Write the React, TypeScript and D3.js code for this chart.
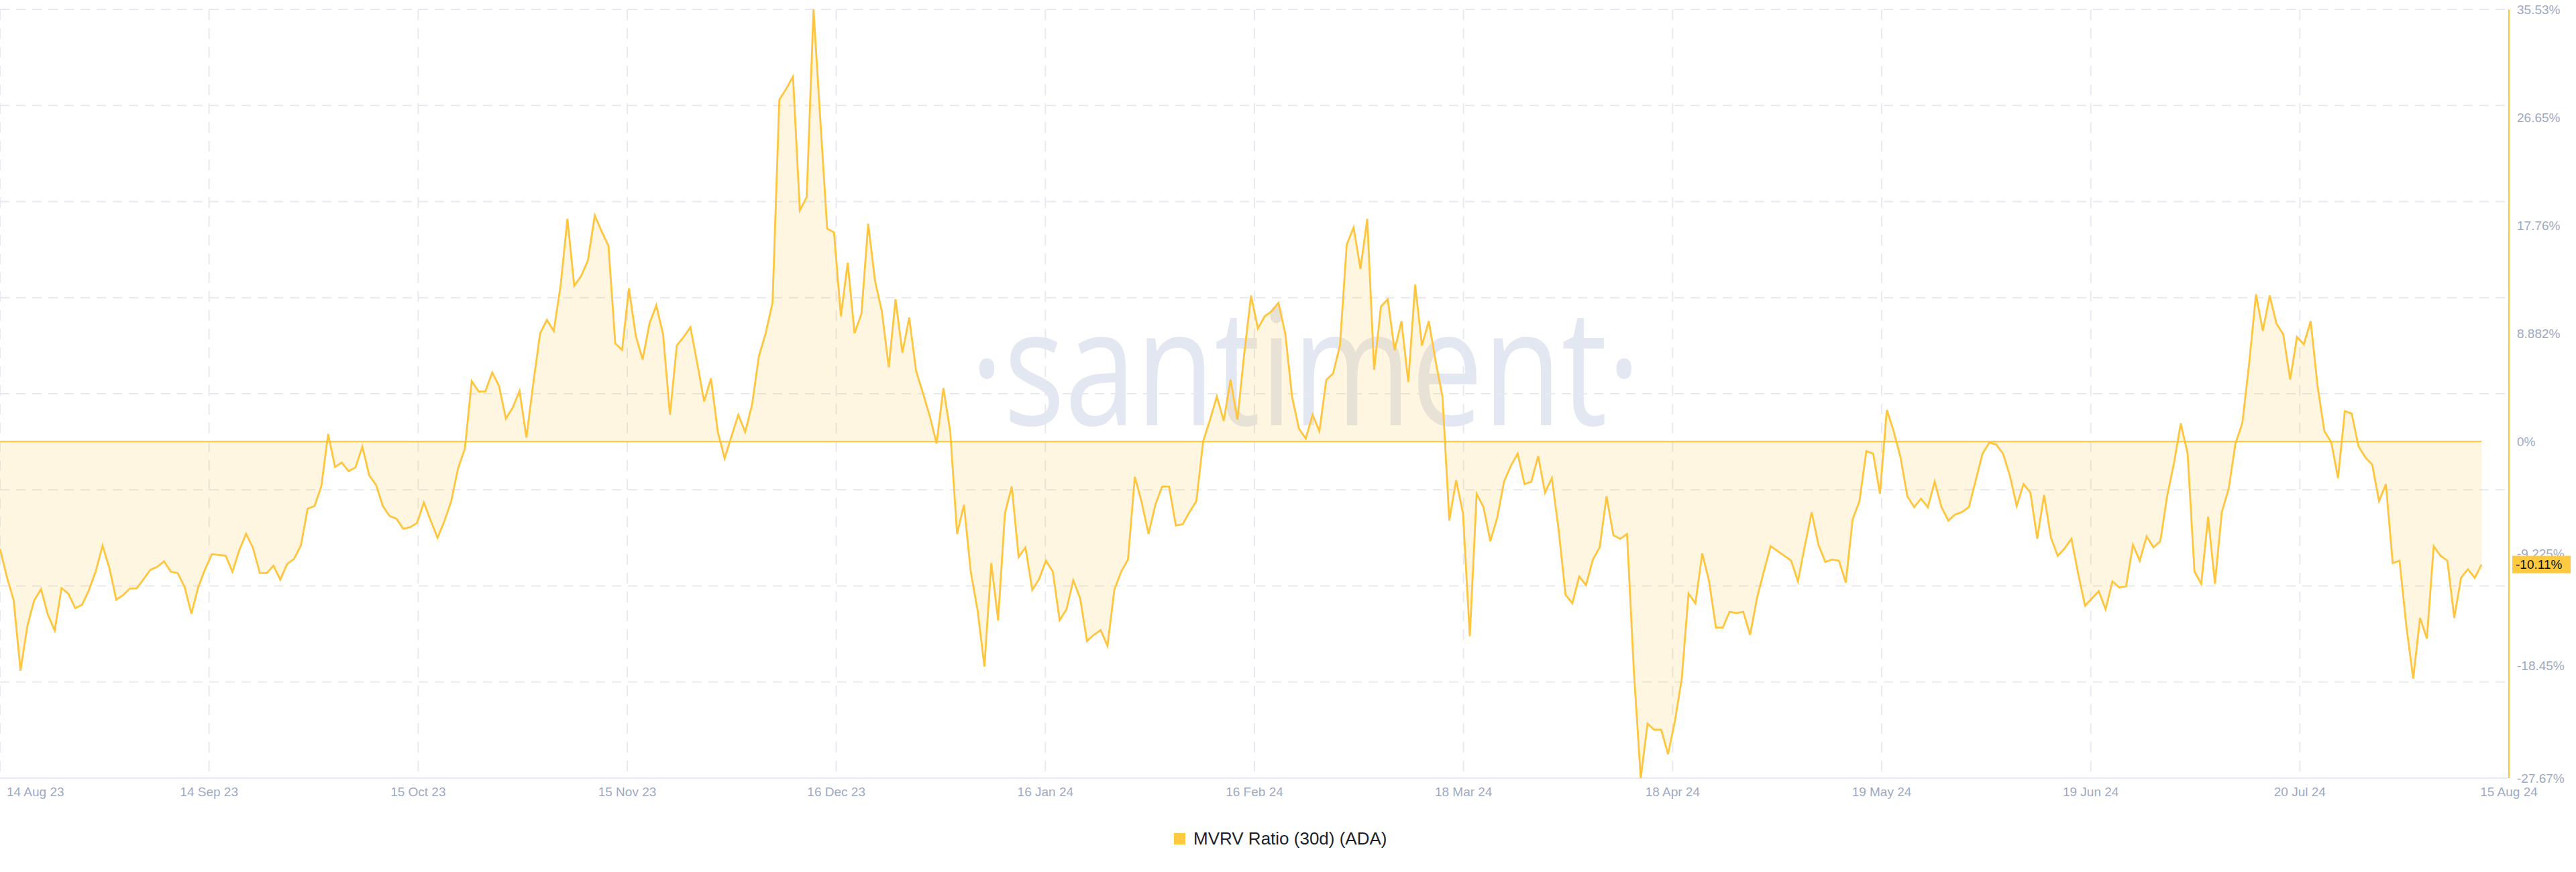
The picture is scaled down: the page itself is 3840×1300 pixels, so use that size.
import React from 'react';
import * as d3 from 'd3';

const W = 3840;
const H = 1300;

// MVRV Ratio (30d) for ADA, daily, starting 14 Aug 2023 (values in %)
const mvrvAugSep23 = [
  -8.83, -11.13, -13.06, -18.84, -15.17, -13.06, -12.14, -14.25, -15.54, -12.05,
  -12.51, -13.7, -13.43, -12.23, -10.67, -8.56, -10.4, -13.0, -12.64, -12.08,
  -12.07, -11.31, -10.54, -10.3, -9.85, -10.71, -10.82, -11.96, -14.16, -11.96,
];
const mvrvSepOct23 = [
  -10.49, -9.26, -9.33, -9.38, -10.71, -8.93, -7.59, -8.74, -10.8, -10.82,
  -10.21, -11.35, -10.07, -9.66, -8.56, -5.53, -5.31, -3.69, 0.62, -2.09,
  -1.73, -2.44, -2.13, -0.42, -2.77, -3.56, -5.31, -6.13, -6.35, -7.18,
];
const mvrvOctNov23 = [
  -7.04, -6.71, -5.02, -6.51, -7.91, -6.55, -4.9, -2.22, -0.58, 4.98,
  4.12, 4.12, 5.68, 4.57, 1.89, 2.8, 4.16, 0.33, 4.78, 8.89,
  10.0, 9.1, 12.8, 18.3, 12.8, 13.6, 14.9, 18.6, 17.3, 16.1,
];
const mvrvNovDec23 = [
  8.07, 7.54, 12.6, 8.7, 6.75, 9.7, 11.2, 8.8, 2.2, 7.9,
  8.6, 9.4, 6.4, 3.3, 5.2, 0.8, -1.4, 0.45, 2.2, 0.8,
  3.0, 7.0, 8.9, 11.4, 28.1, 29.0, 30.0, 19.0, 20.1, 35.53,
];
const mvrvDecJan24 = [
  26.4, 17.5, 17.2, 10.3, 14.7, 8.9, 10.5, 17.9, 13.2, 10.7,
  6.1, 11.7, 7.3, 10.2, 5.8, 4.0, 2.1, -0.16, 4.4, 0.8,
  -7.6, -5.2, -10.7, -13.9, -18.5, -10.0, -14.7, -5.9, -3.7, -9.5,
];
const mvrvJanFeb24 = [
  -8.7, -12.2, -11.3, -9.8, -10.7, -14.7, -13.8, -11.4, -12.9, -16.4,
  -15.9, -15.5, -16.8, -12.2, -10.7, -9.7, -2.9, -5.0, -7.6, -5.2,
  -3.7, -3.7, -6.9, -6.8, -5.8, -4.9, 0.04, 1.8, 3.7, 1.7,
];
const mvrvFebMar24 = [
  5.1, 1.8, 7.2, 12.0, 9.3, 10.3, 10.7, 11.4, 8.9, 3.7,
  1.07, 0.25, 2.2, 0.86, 5.07, 5.6, 7.9, 16.2, 17.6, 14.2,
  18.3, 5.9, 11.1, 11.7, 7.5, 9.9, 4.9, 12.9, 7.9, 9.9,
];
const mvrvMarApr24 = [
  6.6, 3.7, -6.5, -3.2, -5.9, -16.0, -4.3, -5.4, -8.2, -6.3,
  -3.3, -2.0, -1.0, -3.5, -3.3, -1.2, -4.2, -3.0, -7.3, -12.6,
  -13.3, -11.1, -11.8, -9.7, -8.7, -4.5, -7.7, -8.0, -7.6, -18.9,
];
const mvrvAprMay24 = [
  -27.67, -23.2, -23.7, -23.7, -25.7, -23.0, -19.5, -12.5, -13.3, -9.2,
  -11.5, -15.3, -15.3, -14.0, -14.1, -14.0, -15.9, -12.9, -10.7, -8.6,
  -9.0, -9.4, -9.8, -11.5, -8.6, -5.8, -8.5, -9.9, -9.7, -9.8,
];
const mvrvMayJun24 = [
  -11.6, -6.4, -4.9, -0.8, -1.0, -4.3, 2.6, 0.86, -1.3, -4.5,
  -5.4, -4.7, -5.4, -3.3, -5.4, -6.5, -6.0, -5.8, -5.4, -3.2,
  -1.0, -0.08, -0.25, -1.0, -2.8, -5.3, -3.5, -4.2, -8.0, -4.4,
];
const mvrvJunJul24 = [
  -7.9, -9.4, -8.8, -8.0, -10.9, -13.5, -12.9, -12.3, -13.8, -11.5,
  -12.0, -11.9, -8.5, -9.8, -7.8, -8.7, -8.2, -4.5, -1.8, 1.5,
  -1.0, -10.7, -11.7, -6.2, -11.7, -5.8, -3.9, -0.16, 1.5, 6.4,
];
const mvrvJulAug24 = [
  12.1, 9.1, 12.0, 9.7, 8.8, 5.1, 8.6, 8.0, 9.9, 4.6,
  0.86, -0.04, -3.0, 2.5, 2.3, -0.4, -1.3, -1.9, -4.9, -3.5,
  -10.0, -9.8, -15.2, -19.5, -14.5, -16.2, -8.6, -9.4, -9.8, -14.5,
  -11.2, -10.5, -11.2, -10.11,
];

const xTickLabels = [
  '14 Aug 23', '14 Sep 23', '15 Oct 23', '15 Nov 23', '16 Dec 23', '16 Jan 24', '16 Feb 24',
  '18 Mar 24', '18 Apr 24', '19 May 24', '19 Jun 24', '20 Jul 24', '15 Aug 24',
];
const yTickValues = [35.53, 26.65, 17.76, 8.882, 0, -9.225, -18.45, -27.67];
const yTickLabels = ['35.53%', '26.65%', '17.76%', '8.882%', '0%', '-9.225%', '-18.45%', '-27.67%'];
const seriesName = 'MVRV Ratio (30d) (ADA)';
const lastLabel = '-10.11%';

const values = [
  ...mvrvAugSep23, ...mvrvSepOct23, ...mvrvOctNov23, ...mvrvNovDec23,
  ...mvrvDecJan24, ...mvrvJanFeb24, ...mvrvFebMar24, ...mvrvMarApr24,
  ...mvrvAprMay24, ...mvrvMayJun24, ...mvrvJunJul24, ...mvrvJulAug24,
];

const startDate = new Date(Date.UTC(2023, 7, 14));
const endDate = new Date(Date.UTC(2024, 7, 15));
const data = values.map((v, i) => ({
  date: new Date(startDate.getTime() + i * 86400000),
  value: v,
}));

const YELLOW = '#ffc53d';
const GRID = '#e6e9f1';
const AXIS_TEXT = '#9ea9c4';
const FONT = '"Liberation Sans", Arial, sans-serif';

export default function App() {
  const plot = { left: 0, right: 3740, top: 14, bottom: 1160 };

  const x = d3.scaleUtc().domain([startDate, endDate]).range([plot.left, plot.right]);
  const y = d3.scaleLinear().domain([-27.67, 35.53]).range([plot.bottom, plot.top]);
  const xTicks = d3.scalePoint<string>().domain(xTickLabels).range([plot.left, plot.right]);

  const area = d3.area<{ date: Date; value: number }>()
    .x(d => x(d.date))
    .y0(y(0))
    .y1(d => y(d.value));
  const line = d3.line<{ date: Date; value: number }>()
    .x(d => x(d.date))
    .y(d => y(d.value));

  const rowCount = 8;
  const rows = d3.range(rowCount).map(k => plot.top + (k * (plot.bottom - plot.top)) / rowCount);
  const cols = xTickLabels.slice(0, -1).map(l => xTicks(l) as number);

  const last = data[data.length - 1];
  const lastY = y(last.value);

  return (
    <div style={{ position: 'absolute', left: 0, top: 0, width: W, height: H, background: '#fff' }}>
      <svg width={W} height={H} style={{ display: 'block' }}>
        <rect width={W} height={H} fill="#fff" />

        {/* watermark */}
        <text
          x={1446}
          y={634}
          fontFamily='"Open Sans", "Noto Sans", sans-serif'
          fontSize={242}
          fill="#e3e7f1"
          textLength={1000}
          lengthAdjust="spacingAndGlyphs"
        >
          ·santiment·
        </text>

        {/* grid */}
        {rows.map((ry, i) => (
          <line key={'r' + i} x1={plot.left} x2={plot.right} y1={ry} y2={ry}
            stroke={GRID} strokeWidth={2} strokeDasharray="14 10" />
        ))}
        {cols.map((cx, i) => (
          <line key={'c' + i} x1={cx} x2={cx} y1={plot.top} y2={plot.bottom}
            stroke={GRID} strokeWidth={2} strokeDasharray="16 12" />
        ))}

        {/* bottom axis */}
        <line x1={plot.left} x2={plot.right} y1={plot.bottom} y2={plot.bottom} stroke={GRID} strokeWidth={2} />

        {/* series */}
        <path d={area(data) || ''} fill={YELLOW} fillOpacity={0.15} />
        <line x1={x(data[0].date)} x2={x(last.date)} y1={y(0)} y2={y(0)} stroke={YELLOW} strokeWidth={1.8} />
        <path d={line(data) || ''} fill="none" stroke={YELLOW} strokeWidth={2.8} />

        {/* right axis */}
        <line x1={plot.right} x2={plot.right} y1={plot.top} y2={plot.bottom} stroke={YELLOW} strokeWidth={2} />
        {yTickValues.map((v, i) => (
          <text key={'y' + i} x={plot.right + 12} y={y(v)} dominantBaseline="central"
            fontFamily={FONT} fontSize={19} fill={AXIS_TEXT}>
            {yTickLabels[i]}
          </text>
        ))}

        {/* last value badge */}
        <rect x={plot.right + 5} y={lastY - 13} width={87} height={26} fill="#ffc940" />
        <text x={plot.right + 10} y={lastY} dominantBaseline="central" fontFamily={FONT} fontSize={19} fill="#111">
          {lastLabel}
        </text>

        {/* x axis labels */}
        {xTickLabels.map((l, i) => (
          <text key={'x' + i} x={i === 0 ? 10 : (xTicks(l) as number)} y={1187}
            textAnchor={i === 0 ? 'start' : 'middle'} fontFamily={FONT} fontSize={19} fill={AXIS_TEXT}>
            {l}
          </text>
        ))}

        {/* legend */}
        <rect x={1750} y={1242} width={17} height={17} fill="#ffc940" />
        <text x={1779} y={1259} fontFamily={FONT} fontSize={26} fill="#1a1f2e">
          {seriesName}
        </text>
      </svg>
    </div>
  );
}
